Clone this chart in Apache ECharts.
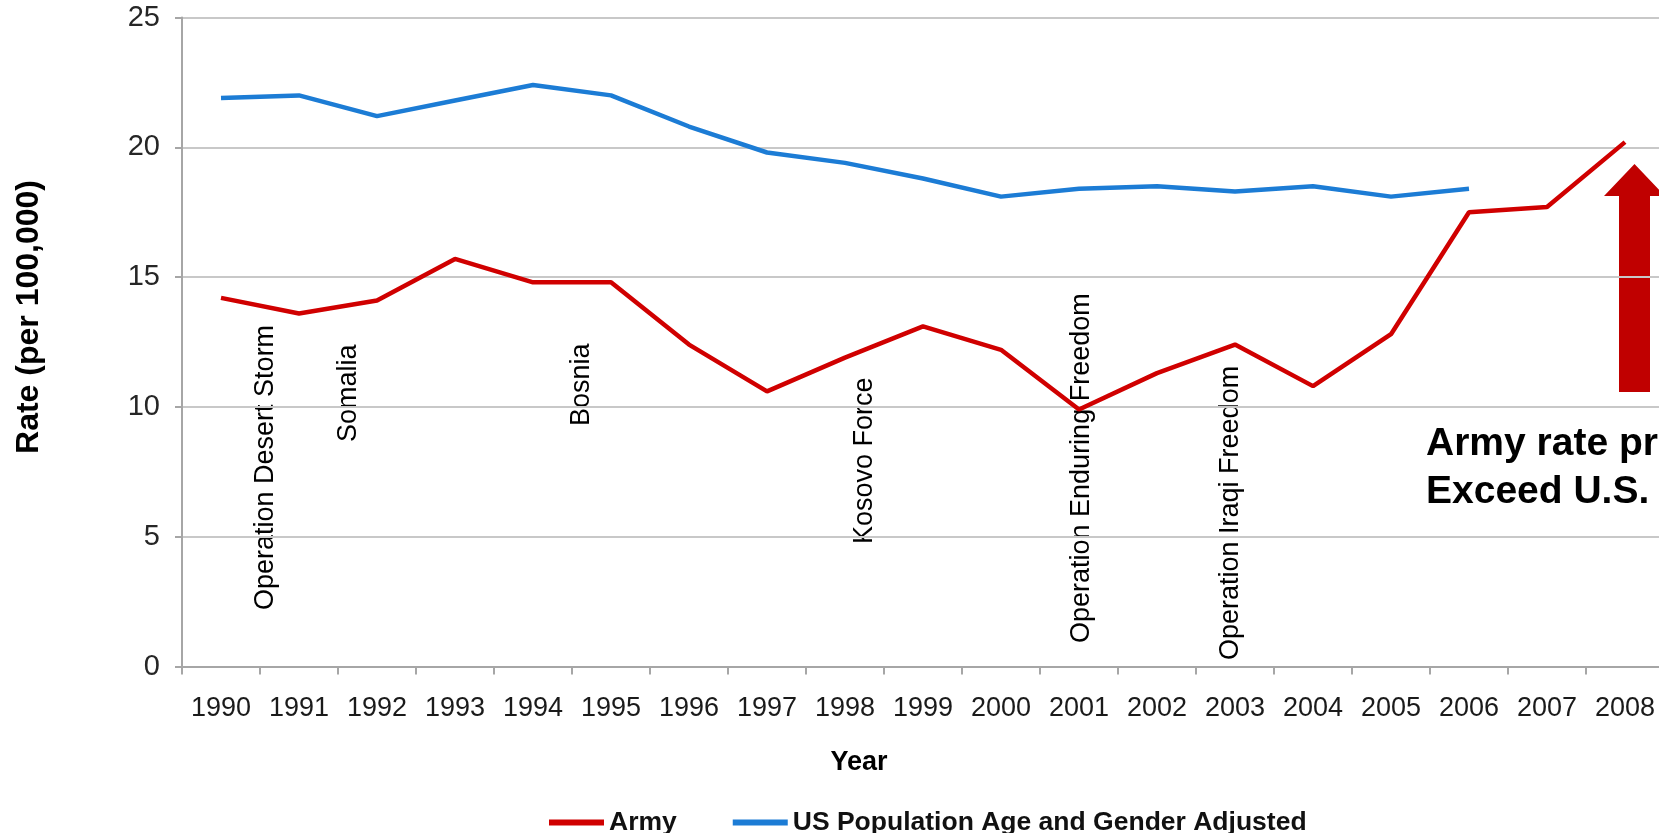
<!DOCTYPE html>
<html>
<head>
<meta charset="utf-8">
<script src="https://cdn.jsdelivr.net/npm/echarts@6/dist/echarts.min.js"></script>
<style>
html,body{margin:0;padding:0;background:#fff;}
#chart{width:1659px;height:833px;}
</style>
</head>
<body>
<div id="chart"></div>
<script>
// ---- data ----
const years = ['1990','1991','1992','1993','1994','1995','1996','1997','1998','1999','2000','2001','2002','2003','2004','2005','2006','2007','2008'];
const armyRate = [14.2,13.6,14.1,15.7,14.8,14.8,12.4,10.6,11.9,13.1,12.2,9.9,11.3,12.4,10.8,12.8,17.5,17.7,20.2];
const usRate = [21.9,22.0,21.2,21.8,22.4,22.0,20.8,19.8,19.4,18.8,18.1,18.4,18.5,18.3,18.5,18.1,18.4,null,null];
const seriesNames = ['Army','US Population Age and Gender Adjusted'];
const yTicks = {min:0, max:25, interval:5};
const eventLabels = ['Operation Desert Storm','Somalia','Bosnia','Kosovo Force','Operation Enduring Freedom','Operation Iraqi Freedom'];
const noteLines = ['Army rate pr','Exceed U.S.'];

// ---- layout (pixel positions of annotations) ----
const eventPos = [[266,610],[349,442],[582,426],[865,544],[1082,643],[1231,660]];
const FONT = "'Liberation Sans', Arial, Helvetica, sans-serif";

const chart = echarts.init(document.getElementById('chart'), null, {renderer:'canvas'});

const graphics = [];
eventLabels.forEach((t,i)=>{
  graphics.push({
    type:'text', x:eventPos[i][0], y:eventPos[i][1], rotation:Math.PI/2,
    style:{text:t, fill:'#000', font:'27px ' + FONT, textAlign:'left', textVerticalAlign:'middle'}
  });
});
graphics.push({
  type:'text', x:29, y:317, rotation:Math.PI/2,
  style:{text:'Rate (per 100,000)', fill:'#000', font:'bold 32px ' + FONT, textAlign:'center', textVerticalAlign:'middle'}
});
graphics.push({
  type:'text', x:859, y:763,
  style:{text:'Year', fill:'#000', font:'bold 27px ' + FONT, textAlign:'center', textVerticalAlign:'middle'}
});
graphics.push({
  type:'polygon',
  shape:{points:[[1619,392],[1650,392],[1650,196],[1665,196],[1634.5,164],[1604,196],[1619,196]]},
  style:{fill:'#C00000'}
});
graphics.push({
  type:'text', x:1426, y:444,
  style:{text:noteLines[0], fill:'#000', font:'bold 39px ' + FONT, textAlign:'left', textVerticalAlign:'middle'}
});
graphics.push({
  type:'text', x:1426, y:492,
  style:{text:noteLines[1], fill:'#000', font:'bold 39px ' + FONT, textAlign:'left', textVerticalAlign:'middle'}
});

const option = {
  animation:false,
  backgroundColor:'#ffffff',
  textStyle:{fontFamily:FONT},
  grid:{left:182, top:17.5, width:1482, height:649, containLabel:false, outerBoundsMode:'none'},
  legend:{
    data:seriesNames,
    left:549, top:809, padding:0,
    icon:'rect',
    itemWidth:55, itemHeight:6, itemGap:56,
    textStyle:{fontSize:26.5, fontWeight:'bold', color:'#111', fontFamily:FONT}
  },
  xAxis:{
    type:'category', data:years, boundaryGap:true,
    axisLine:{show:true, lineStyle:{color:'#A6A6A6', width:2}},
    axisTick:{show:true, length:8, alignWithLabel:false, lineStyle:{color:'#A6A6A6', width:2}},
    axisLabel:{interval:0, fontSize:27, margin:29, color:'#1a1a1a', fontFamily:FONT},
    splitLine:{show:false}
  },
  yAxis:{
    type:'value', min:yTicks.min, max:yTicks.max, interval:yTicks.interval,
    axisLine:{show:true, lineStyle:{color:'#A6A6A6', width:2}},
    axisTick:{show:true, length:7, lineStyle:{color:'#A6A6A6', width:2}},
    axisLabel:{fontSize:29, margin:22, color:'#262626', fontFamily:FONT},
    splitLine:{show:true, lineStyle:{color:'#C8C8C8', width:2}}
  },
  series:[
    {name:seriesNames[0], type:'line', data:armyRate, symbol:'none', smooth:false,
     lineStyle:{color:'#D00000', width:4.5}, itemStyle:{color:'#D00000'}, z:3},
    {name:seriesNames[1], type:'line', data:usRate, symbol:'none', smooth:false, connectNulls:false,
     lineStyle:{color:'#1C7CD5', width:4.5}, itemStyle:{color:'#1C7CD5'}, z:2}
  ],
  graphic:graphics
};
chart.setOption(option);
</script>
</body>
</html>
